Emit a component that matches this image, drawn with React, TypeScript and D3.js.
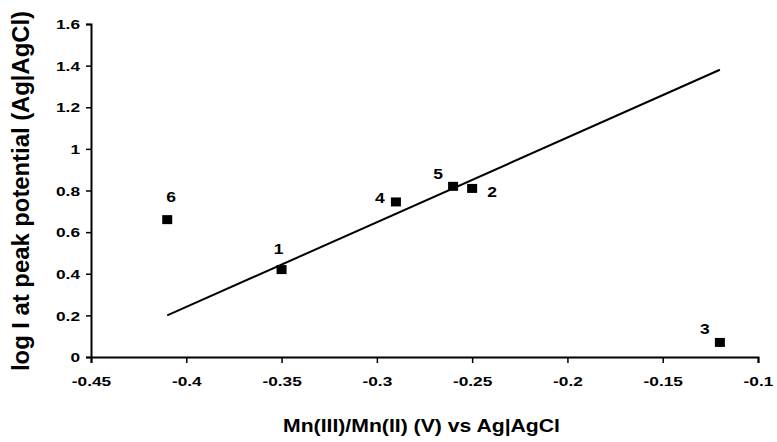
import React, { useEffect, useRef } from "react";
import * as d3 from "d3";

// compounds 1..6
const labels = ["1", "2", "3", "4", "5", "6"];
const potentials = [-0.35, -0.25, -0.12, -0.29, -0.26, -0.41];
const logCurrent = [0.42, 0.81, 0.07, 0.745, 0.82, 0.66];

// fitted line end points
const fitX = [-0.41, -0.12];
const fitY = [0.2, 1.38];

const xTicks = [-0.45, -0.4, -0.35, -0.3, -0.25, -0.2, -0.15, -0.1];
const yTicks = [0, 0.2, 0.4, 0.6, 0.8, 1, 1.2, 1.4, 1.6];

// label offsets relative to the marker
const labelDx = [-3, 20, -15, -16, -15, 4];
const labelDy = [-21, 4, -13, -4, -12, -23];

const FONT = "'Liberation Sans', Arial, sans-serif";
const SX = 1.33; // text in the source looks stretched sideways

const App = () => {
  const ref = useRef<HTMLDivElement>(null);

  useEffect(() => {
    const width = 777;
    const height = 442;
    const margin = { top: 24, right: 19, bottom: 85, left: 91 };

    const x = d3.scaleLinear().domain([-0.45, -0.1]).range([margin.left, width - margin.right]);
    const y = d3.scaleLinear().domain([0, 1.6]).range([height - margin.bottom, margin.top]);

    const svg = d3.create("svg")
      .attr("width", width)
      .attr("height", height)
      .style("display", "block")
      .style("font-family", FONT);

    svg.append("rect").attr("width", width).attr("height", height).attr("fill", "#fff");

    svg.append("g")
      .attr("transform", `translate(0,${y(0)})`)
      .call(d3.axisBottom(x).tickValues(xTicks).tickSize(6).tickFormat(d => String(+d)))
      .call(g => g.select(".domain").attr("stroke-width", 2))
      .call(g => g.selectAll(".tick line").attr("stroke-width", 1.5))
      .call(g => g.selectAll(".tick text")
        .attr("font-size", 13).attr("font-weight", "bold").attr("font-family", FONT)
        .attr("x", 0).attr("y", 20).attr("dy", "0.71em")
        .attr("transform", `scale(${SX},1)`));

    svg.append("g")
      .attr("transform", `translate(${x(-0.45)},0)`)
      .call(d3.axisLeft(y).tickValues(yTicks).tickSize(5).tickFormat(d => String(+d)))
      .call(g => g.select(".domain").attr("stroke-width", 2))
      .call(g => g.selectAll(".tick line").attr("stroke-width", 1.5))
      .call(g => g.selectAll(".tick text")
        .attr("font-size", 13).attr("font-weight", "bold").attr("font-family", FONT)
        .attr("x", -11 / SX).attr("dy", "0.36em")
        .attr("transform", `scale(${SX},1)`));

    svg.append("line")
      .attr("x1", x(fitX[0])).attr("y1", y(fitY[0]))
      .attr("x2", x(fitX[1])).attr("y2", y(fitY[1]))
      .attr("stroke", "#000")
      .attr("stroke-width", 2);

    svg.append("g")
      .selectAll("rect")
      .data(potentials)
      .join("rect")
      .attr("x", d => x(d) - 5)
      .attr("y", (d, i) => y(logCurrent[i]) - 4.5)
      .attr("width", 10)
      .attr("height", 9)
      .attr("fill", "#000");

    svg.append("g")
      .selectAll("g")
      .data(labels)
      .join("g")
      .attr("transform", (d, i) =>
        `translate(${x(potentials[i]) + labelDx[i]},${y(logCurrent[i]) + labelDy[i]}) scale(1.25,1)`)
      .append("text")
      .attr("text-anchor", "middle")
      .attr("dy", "0.36em")
      .attr("font-size", 14)
      .attr("font-weight", "bold")
      .text(d => d);

    svg.append("text")
      .attr("x", 421.5)
      .attr("y", 432)
      .attr("text-anchor", "middle")
      .attr("font-size", 18)
      .attr("font-weight", "bold")
      .attr("textLength", 277)
      .attr("lengthAdjust", "spacingAndGlyphs")
      .text("Mn(III)/Mn(II) (V) vs Ag|AgCl");

    svg.append("text")
      .attr("transform", `translate(29,191) scale(1.3,1) rotate(-90)`)
      .attr("text-anchor", "middle")
      .attr("font-size", 19)
      .attr("font-weight", "bold")
      .attr("textLength", 360)
      .attr("lengthAdjust", "spacingAndGlyphs")
      .text("log I at peak potential (Ag|AgCl)");

    ref.current!.innerHTML = "";
    ref.current!.appendChild(svg.node()!);
  }, []);

  return <div ref={ref} style={{ position: "fixed", left: 0, top: 0, width: 777, height: 442, overflow: "hidden" }} />;
};

export default App;
